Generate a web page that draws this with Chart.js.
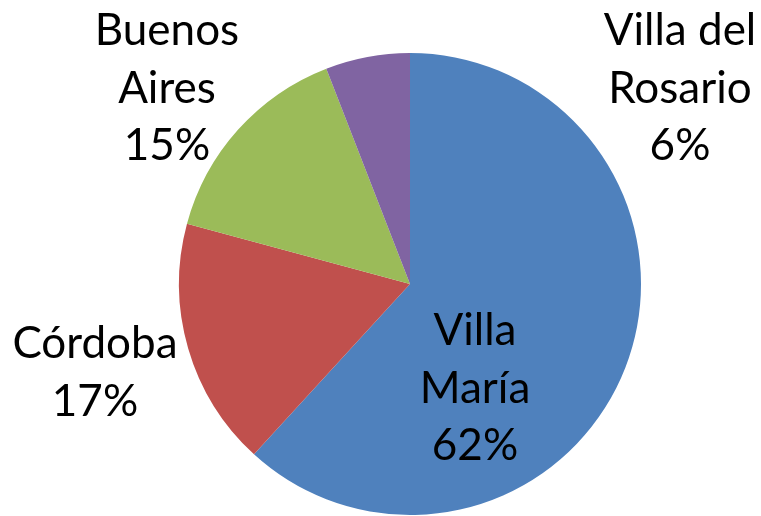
<!DOCTYPE html>
<html>
<head>
<meta charset="utf-8">
<script src="https://cdn.jsdelivr.net/npm/chart.js@4/dist/chart.umd.min.js"></script>
<style>
html,body{margin:0;padding:0;background:#fff;}
#wrap{width:761px;height:516px;position:relative;}
</style>
</head>
<body>
<div id="wrap"><canvas id="c" width="761" height="516"></canvas></div>
<script>
const categories = ["Villa María", "Córdoba", "Buenos Aires", "Villa del Rosario"];
const labelLines = [["Villa", "María"], ["Córdoba"], ["Buenos", "Aires"], ["Villa del", "Rosario"]];
const values = [61.8, 17.4, 14.9, 5.9];
const colors = ["#4F81BD", "#C0504D", "#9BBB59", "#8064A2"];

// label anchor offsets (x of text centre, baseline of first line) relative to pie centre
const labelOffsets = [[65, 61], [-315, 74], [-243, -239], [270, -239]];

const labelPlugin = {
  id: 'pieLabels',
  afterDatasetsDraw(chart) {
    const ctx = chart.ctx;
    const meta = chart.getDatasetMeta(0);
    const total = values.reduce((a, b) => a + b, 0);
    ctx.save();
    ctx.fillStyle = '#000';
    ctx.font = '44px Lato, "Open Sans", sans-serif';
    ctx.textAlign = 'center';
    ctx.textBaseline = 'alphabetic';
    const lh = 57.5;
    meta.data.forEach((arc, i) => {
      const cx = arc.x + labelOffsets[i][0];
      let y = arc.y + labelOffsets[i][1];
      const lines = labelLines[i].concat([Math.round(values[i] / total * 100) + '%']);
      lines.forEach((t) => { ctx.fillText(t, cx, y); y += lh; });
    });
    ctx.restore();
  }
};

new Chart(document.getElementById('c'), {
  type: 'pie',
  data: {
    labels: categories,
    datasets: [{ data: values, backgroundColor: colors, borderWidth: 0 }]
  },
  options: {
    responsive: false,
    animation: false,
    layout: { padding: { top: 53, bottom: 1, left: 179, right: 120 } },
    plugins: { legend: { display: false }, tooltip: { enabled: false } }
  },
  plugins: [labelPlugin]
});
</script>
</body>
</html>
